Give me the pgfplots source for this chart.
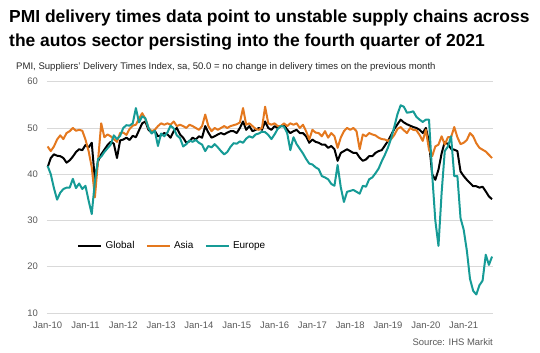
\documentclass[border=0pt]{standalone}
\usepackage{fontspec}
\setmainfont{Liberation Sans}
\usepackage{pgfplots}
\usepackage{pgfplotstable}
\pgfplotsset{compat=1.18}
\definecolor{asia}{RGB}{228,120,30}
\definecolor{europe}{RGB}{22,155,150}
\definecolor{gridc}{RGB}{217,217,217}
\definecolor{tickc}{RGB}{89,89,89}

\pgfplotstableread{
m g a e
0 41.5 46.0 41.8
1 43.5 45.0 40.0
2 44.3 46.0 37.0
3 44.0 47.5 34.5
4 43.9 48.4 36.0
5 43.5 47.6 36.8
6 42.5 48.9 37.1
7 43.0 49.3 37.1
8 43.8 50.0 39.0
9 44.8 49.4 37.0
10 45.4 49.6 38.0
11 45.2 49.4 36.8
12 46.3 47.5 37.5
13 45.8 45.0 34.3
14 46.8 41.5 31.4
15 38.7 35.0 38.5
16 42.8 43.0 43.3
17 44.3 51.0 43.8
18 45.3 48.0 44.8
19 46.3 48.6 45.6
20 47.0 48.2 46.4
21 46.6 47.6 48.4
22 43.5 47.0 47.6
23 47.3 48.9 48.3
24 47.5 49.0 50.0
25 47.9 48.5 50.6
26 47.4 49.8 50.5
27 48.3 50.5 51.0
28 48.0 50.7 54.3
29 49.5 52.0 51.2
30 51.0 53.2 52.5
31 51.4 52.0 52.1
32 49.6 50.0 50.0
33 49.0 49.3 48.8
34 49.4 49.6 49.4
35 48.2 50.4 46.1
36 48.4 51.0 48.8
37 48.9 50.7 48.2
38 48.6 51.0 49.0
39 47.9 50.7 50.5
40 49.3 51.4 49.9
41 50.0 50.4 48.4
42 48.6 50.7 47.8
43 47.9 50.4 46.0
44 46.8 50.0 46.5
45 47.1 50.7 47.3
46 47.9 50.4 47.0
47 47.5 50.0 47.4
48 48.2 49.6 46.8
49 47.9 50.4 46.4
50 50.4 52.9 45.0
51 49.0 50.4 46.1
52 47.9 49.3 45.8
53 48.2 50.0 46.5
54 48.6 49.6 45.8
55 48.9 50.0 45.0
56 48.6 50.4 44.3
57 49.0 50.0 44.8
58 49.3 50.4 45.9
59 49.3 50.6 46.7
60 48.9 50.8 46.6
61 50.0 51.2 47.1
62 51.4 54.3 46.8
63 49.6 50.7 47.7
64 50.4 51.0 48.2
65 49.3 50.4 47.9
66 49.6 49.8 48.6
67 50.0 49.6 48.8
68 49.6 50.0 49.2
69 51.4 54.6 49.1
70 50.0 51.0 48.5
71 49.6 50.7 47.6
72 50.4 51.0 48.6
73 50.0 50.4 49.8
74 50.4 50.4 50.4
75 50.7 51.0 50.3
76 49.6 50.4 48.9
77 48.9 51.0 45.2
78 49.3 50.7 48.0
79 49.6 51.0 46.5
80 48.9 50.0 45.5
81 48.9 50.7 44.5
82 48.2 49.3 43.3
83 46.8 47.5 42.3
84 47.5 49.6 42.1
85 47.0 49.0 41.5
86 46.8 48.9 41.1
87 46.4 48.2 39.6
88 46.4 49.3 39.3
89 45.7 47.9 38.9
90 46.1 48.9 37.9
91 45.4 48.2 37.5
92 42.9 45.7 42.0
93 44.6 47.9 37.2
94 45.0 49.3 34.0
95 45.4 50.0 36.2
96 45.0 49.6 36.4
97 44.6 50.0 36.6
98 44.6 49.3 36.2
99 43.6 45.4 35.8
100 42.9 48.6 37.5
101 43.2 48.2 37.3
102 43.9 48.9 38.9
103 43.9 48.6 39.3
104 44.6 48.4 40.2
105 45.0 47.9 41.2
106 45.2 47.6 42.8
107 46.2 47.5 44.2
108 47.2 47.2 45.8
109 48.5 47.6 47.8
110 49.8 48.5 50.3
111 50.8 49.8 53.0
112 51.8 50.2 54.9
113 51.2 49.5 54.6
114 50.8 48.9 53.3
115 50.5 50.0 53.4
116 50.2 49.6 53.6
117 50.0 49.5 52.4
118 49.6 48.5 51.8
119 48.9 47.2 51.3
120 50.0 49.6 51.8
121 47.0 45.3 51.8
122 40.0 43.9 40.0
123 38.8 46.0 30.0
124 41.0 46.4 24.5
125 44.5 48.2 36.0
126 47.0 46.4 45.0
127 46.5 48.0 46.0
128 45.5 48.0 48.2
129 45.3 50.2 39.6
130 45.0 48.0 39.6
131 40.6 46.5 30.5
132 39.6 46.8 28.0
133 38.8 47.4 23.5
134 38.1 48.9 17.4
135 37.4 48.2 14.8
136 37.4 46.7 14.0
137 37.1 45.7 16.0
138 37.3 45.3 17.0
139 36.3 44.9 22.6
140 35.2 44.2 20.4
141 34.6 43.5 22.2
}\pmidata

\begin{document}
\begin{tikzpicture}
\path[use as bounding box] (-47bp,-40bp) rectangle (493bp,313bp);
\begin{axis}[
  at={(0,0)}, anchor=south west,
  scale only axis, width=446bp, height=231.3bp,
  xmin=-0.2, xmax=141.3, ymin=10, ymax=60,
  ytick={10,20,...,60},
  xtick={0,12,...,132},
  xticklabels={Jan-10,Jan-11,Jan-12,Jan-13,Jan-14,Jan-15,Jan-16,Jan-17,Jan-18,Jan-19,Jan-20,Jan-21},
  ymajorgrids, grid style={gridc, line width=0.9bp},
  axis line style={draw=none}, major tick length=0pt,
  /pgf/number format/assume math mode=true,
  tick label style={font=\fontsize{9.5}{11}\selectfont, text=tickc},
  yticklabel style={anchor=east, inner sep=0pt, xshift=-9bp},
  xticklabel style={anchor=north, inner sep=0pt, yshift=-8.6bp},
  legend columns=3,
  legend style={at={(0.067,0.29)}, anchor=west, draw=none, fill=none,
    inner sep=0pt, font=\fontsize{10}{12}\selectfont,
    nodes={inner sep=0pt},
    /tikz/every odd column/.append style={column sep=3bp},
    /tikz/every even column/.append style={column sep=11bp}},
  legend image code/.code={\draw[#1, line width=2.6bp] (0bp,0bp) -- (23bp,0bp);},
  every axis plot/.append style={line width=2bp, line join=round},
]
\addplot[black] table[x=m, y=g] {\pmidata};
\addlegendentry{Global}
\addplot[asia] table[x=m, y=a] {\pmidata};
\addlegendentry{Asia}
\addplot[europe] table[x=m, y=e] {\pmidata};
\addlegendentry{Europe}
\end{axis}
\node[anchor=base west, inner sep=0pt, font=\fontsize{17.5}{20}\selectfont\bfseries] at (-38bp,290.5bp) {PMI delivery times data point to unstable supply chains across};
\node[anchor=base west, inner sep=0pt, font=\fontsize{17.5}{20}\selectfont\bfseries] at (-38bp,266.3bp) {the autos sector persisting into the fourth quarter of 2021};
\node[anchor=base west, inner sep=0pt, font=\fontsize{9.6}{11}\selectfont, text={rgb,255:red,38;green,38;blue,38}] at (-31bp,243.7bp) {PMI, Suppliers' Delivery Times Index, sa, 50.0 = no change in delivery times on the previous month};
\node[anchor=base east, inner sep=0pt, font=\fontsize{9.5}{11}\selectfont, text=tickc] at (446bp,-32bp) {Source: IHS Markit};
\end{tikzpicture}
\end{document}
